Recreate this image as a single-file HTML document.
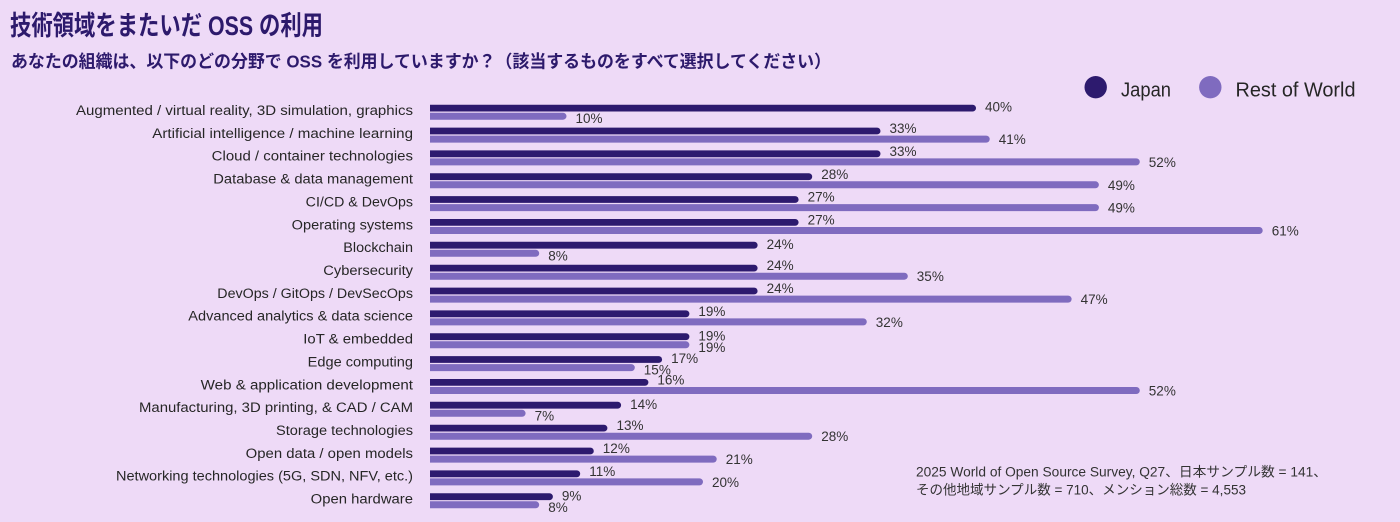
<!DOCTYPE html>
<html><head><meta charset="utf-8"><style>
html,body{margin:0;padding:0;background:#eedaf7;}
svg{display:block;}
.cat{font-family:"Liberation Sans","Noto Sans CJK JP",sans-serif;font-size:13.5px;fill:#262626;}
.val{font-family:"Liberation Sans",sans-serif;font-size:13.5px;fill:#333;}
.jp{fill:#2d1a6e;}
.rw{fill:#7f6bbf;}
</style></head><body>
<svg width="1400" height="522" viewBox="0 0 1400 522" xmlns="http://www.w3.org/2000/svg">
<rect width="1400" height="522" fill="#eedaf7"/>
<text x="10" y="35" font-family="'Liberation Sans','Noto Sans CJK JP',sans-serif" font-size="27" font-weight="bold" fill="#2d1a6c" textLength="313" lengthAdjust="spacingAndGlyphs">技術領域をまたいだ OSS の利用</text>
<text x="11" y="67.5" font-family="'Liberation Sans','Noto Sans CJK JP',sans-serif" font-size="17.5" font-weight="bold" fill="#2d1a6c" textLength="820" lengthAdjust="spacingAndGlyphs">あなたの組織は、以下のどの分野で OSS を利用していますか？（該当するものをすべて選択してください）</text>

<circle cx="1095.7" cy="87.2" r="11.2" fill="#2d1a6e"/>
<text x="1121" y="96.5" font-family="'Liberation Sans',sans-serif" font-size="20" fill="#262626" textLength="50" lengthAdjust="spacingAndGlyphs">Japan</text>
<circle cx="1210.3" cy="87.2" r="11.2" fill="#7f6bbf"/>
<text x="1235.5" y="96.5" font-family="'Liberation Sans',sans-serif" font-size="20" fill="#262626" textLength="120" lengthAdjust="spacingAndGlyphs">Rest of World</text>

<!-- category labels -->
<g class="cat" text-anchor="end">
<text x="413" y="115" textLength="337" lengthAdjust="spacingAndGlyphs">Augmented / virtual reality, 3D simulation, graphics</text>
<text x="413" y="137.9" textLength="260.7" lengthAdjust="spacingAndGlyphs">Artificial intelligence / machine learning</text>
<text x="413" y="160.7" textLength="201.3" lengthAdjust="spacingAndGlyphs">Cloud / container technologies</text>
<text x="413" y="183.6" textLength="199.7" lengthAdjust="spacingAndGlyphs">Database &amp; data management</text>
<text x="413" y="206.4" textLength="107.3" lengthAdjust="spacingAndGlyphs">CI/CD &amp; DevOps</text>
<text x="413" y="229.3" textLength="121.3" lengthAdjust="spacingAndGlyphs">Operating systems</text>
<text x="413" y="252.1" textLength="69.7" lengthAdjust="spacingAndGlyphs">Blockchain</text>
<text x="413" y="275" textLength="89.7" lengthAdjust="spacingAndGlyphs">Cybersecurity</text>
<text x="413" y="297.9" textLength="195.7" lengthAdjust="spacingAndGlyphs">DevOps / GitOps / DevSecOps</text>
<text x="413" y="320.7" textLength="224.7" lengthAdjust="spacingAndGlyphs">Advanced analytics &amp; data science</text>
<text x="413" y="343.6" textLength="109.7" lengthAdjust="spacingAndGlyphs">IoT &amp; embedded</text>
<text x="413" y="366.4" textLength="105.3" lengthAdjust="spacingAndGlyphs">Edge computing</text>
<text x="413" y="389.3" textLength="212.3" lengthAdjust="spacingAndGlyphs">Web &amp; application development</text>
<text x="413" y="412.1" textLength="274" lengthAdjust="spacingAndGlyphs">Manufacturing, 3D printing, &amp; CAD / CAM</text>
<text x="413" y="435" textLength="137" lengthAdjust="spacingAndGlyphs">Storage technologies</text>
<text x="413" y="457.9" textLength="167.3" lengthAdjust="spacingAndGlyphs">Open data / open models</text>
<text x="413" y="480.7" textLength="297" lengthAdjust="spacingAndGlyphs">Networking technologies (5G, SDN, NFV, etc.)</text>
<text x="413" y="503.6" textLength="102.3" lengthAdjust="spacingAndGlyphs">Open hardware</text>
</g>

<!-- bars -->
<g>
<!-- row0 top 104.7 -->
<path class="jp" d="M430 104.7H972.6A3.4 3.4 0 0 1 972.6 111.5H430Z"/>
<path class="rw" d="M430 112.7H563A3.5 3.5 0 0 1 563 119.7H430Z"/>
<!-- row1 top 127.6 -->
<path class="jp" d="M430 127.6H877.1A3.4 3.4 0 0 1 877.1 134.4H430Z"/>
<path class="rw" d="M430 135.6H986.2A3.5 3.5 0 0 1 986.2 142.6H430Z"/>
<!-- row2 top 150.4 -->
<path class="jp" d="M430 150.4H877.1A3.4 3.4 0 0 1 877.1 157.2H430Z"/>
<path class="rw" d="M430 158.4H1136.3A3.5 3.5 0 0 1 1136.3 165.4H430Z"/>
<!-- row3 top 173.3 -->
<path class="jp" d="M430 173.3H808.8A3.4 3.4 0 0 1 808.8 180.1H430Z"/>
<path class="rw" d="M430 181.3H1095.4A3.5 3.5 0 0 1 1095.4 188.3H430Z"/>
<!-- row4 top 196.1 -->
<path class="jp" d="M430 196.1H795.2A3.4 3.4 0 0 1 795.2 202.9H430Z"/>
<path class="rw" d="M430 204.1H1095.4A3.5 3.5 0 0 1 1095.4 211.1H430Z"/>
<!-- row5 top 219.0 -->
<path class="jp" d="M430 219H795.2A3.4 3.4 0 0 1 795.2 225.8H430Z"/>
<path class="rw" d="M430 227H1259.2A3.5 3.5 0 0 1 1259.2 234H430Z"/>
<!-- row6 top 241.8 -->
<path class="jp" d="M430 241.8H754.2A3.4 3.4 0 0 1 754.2 248.6H430Z"/>
<path class="rw" d="M430 249.8H535.7A3.5 3.5 0 0 1 535.7 256.8H430Z"/>
<!-- row7 top 264.7 -->
<path class="jp" d="M430 264.7H754.2A3.4 3.4 0 0 1 754.2 271.5H430Z"/>
<path class="rw" d="M430 272.7H904.3A3.5 3.5 0 0 1 904.3 279.7H430Z"/>
<!-- row8 top 287.6 -->
<path class="jp" d="M430 287.6H754.2A3.4 3.4 0 0 1 754.2 294.4H430Z"/>
<path class="rw" d="M430 295.6H1068.1A3.5 3.5 0 0 1 1068.1 302.6H430Z"/>
<!-- row9 top 310.4 -->
<path class="jp" d="M430 310.4H686A3.4 3.4 0 0 1 686 317.2H430Z"/>
<path class="rw" d="M430 318.4H863.3A3.5 3.5 0 0 1 863.3 325.4H430Z"/>
<!-- row10 top 333.3 -->
<path class="jp" d="M430 333.3H686A3.4 3.4 0 0 1 686 340.1H430Z"/>
<path class="rw" d="M430 341.3H685.9A3.5 3.5 0 0 1 685.9 348.3H430Z"/>
<!-- row11 top 356.1 -->
<path class="jp" d="M430 356.1H658.7A3.4 3.4 0 0 1 658.7 362.9H430Z"/>
<path class="rw" d="M430 364.1H631.3A3.5 3.5 0 0 1 631.3 371.1H430Z"/>
<!-- row12 top 379.0 -->
<path class="jp" d="M430 379H645A3.4 3.4 0 0 1 645 385.8H430Z"/>
<path class="rw" d="M430 387H1136.3A3.5 3.5 0 0 1 1136.3 394H430Z"/>
<!-- row13 top 401.8 -->
<path class="jp" d="M430 401.8H617.7A3.4 3.4 0 0 1 617.7 408.6H430Z"/>
<path class="rw" d="M430 409.8H522.1A3.5 3.5 0 0 1 522.1 416.8H430Z"/>
<!-- row14 top 424.7 -->
<path class="jp" d="M430 424.7H604A3.4 3.4 0 0 1 604 431.5H430Z"/>
<path class="rw" d="M430 432.7H808.7A3.5 3.5 0 0 1 808.7 439.7H430Z"/>
<!-- row15 top 447.6 -->
<path class="jp" d="M430 447.6H590.4A3.4 3.4 0 0 1 590.4 454.4H430Z"/>
<path class="rw" d="M430 455.6H713.2A3.5 3.5 0 0 1 713.2 462.6H430Z"/>
<!-- row16 top 470.4 -->
<path class="jp" d="M430 470.4H576.8A3.4 3.4 0 0 1 576.8 477.2H430Z"/>
<path class="rw" d="M430 478.4H699.5A3.5 3.5 0 0 1 699.5 485.4H430Z"/>
<!-- row17 top 493.3 -->
<path class="jp" d="M430 493.3H549.5A3.4 3.4 0 0 1 549.5 500.1H430Z"/>
<path class="rw" d="M430 501.3H535.7A3.5 3.5 0 0 1 535.7 508.3H430Z"/>
</g>

<!-- value labels -->
<g class="val">
<text x="985" y="111.7">40%</text>
<text x="575.5" y="123.2">10%</text>
<text x="889.5" y="133.1">33%</text>
<text x="998.7" y="144.1">41%</text>
<text x="889.5" y="155.9">33%</text>
<text x="1148.8" y="166.9">52%</text>
<text x="821.2" y="178.8">28%</text>
<text x="1107.9" y="189.8">49%</text>
<text x="807.6" y="201.6">27%</text>
<text x="1107.9" y="212.6">49%</text>
<text x="807.6" y="224.5">27%</text>
<text x="1271.7" y="235.5">61%</text>
<text x="766.6" y="248.8">24%</text>
<text x="548.2" y="260.3">8%</text>
<text x="766.6" y="270.2">24%</text>
<text x="916.8" y="281.2">35%</text>
<text x="766.6" y="293.1">24%</text>
<text x="1080.6" y="304.1">47%</text>
<text x="698.4" y="315.9">19%</text>
<text x="875.8" y="326.9">32%</text>
<text x="698.4" y="340.3">19%</text>
<text x="698.4" y="351.8">19%</text>
<text x="671.1" y="363.1">17%</text>
<text x="643.8" y="374.6">15%</text>
<text x="657.4" y="384.5">16%</text>
<text x="1148.8" y="395.5">52%</text>
<text x="630.1" y="408.8">14%</text>
<text x="534.6" y="420.3">7%</text>
<text x="616.5" y="430.2">13%</text>
<text x="821.2" y="441.2">28%</text>
<text x="602.8" y="453.1">12%</text>
<text x="725.7" y="464.1">21%</text>
<text x="589.2" y="475.9">11%</text>
<text x="712" y="486.9">20%</text>
<text x="561.9" y="500.3">9%</text>
<text x="548.2" y="511.8">8%</text>
</g>

<!-- footnote -->
<text x="916" y="476.7" font-family="'Liberation Sans','Noto Sans CJK JP',sans-serif" font-size="13.5" fill="#333" textLength="411" lengthAdjust="spacingAndGlyphs">2025 World of Open Source Survey, Q27、日本サンプル数 = 141、</text>
<text x="916" y="494.3" font-family="'Liberation Sans','Noto Sans CJK JP',sans-serif" font-size="13.5" fill="#333" textLength="330" lengthAdjust="spacingAndGlyphs">その他地域サンプル数 = 710、メンション総数 = 4,553</text>
</svg>
</body></html>
